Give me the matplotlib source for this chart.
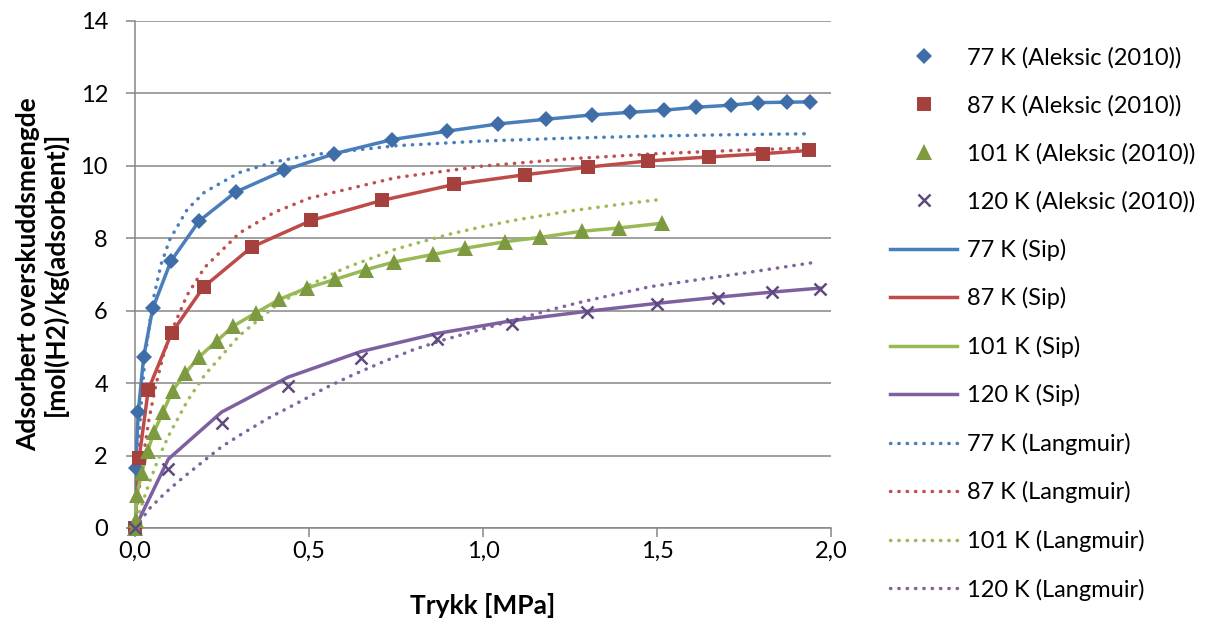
import matplotlib
matplotlib.use("Agg")
import matplotlib.pyplot as plt
from matplotlib.ticker import FuncFormatter, MultipleLocator

plt.rcParams['font.family'] = ['Lato', 'DejaVu Sans']

# Aleksic (2010) measurements
p77 = [0.0, 0.0015, 0.0095, 0.025, 0.051, 0.103, 0.184, 0.289, 0.429, 0.573, 0.739,
       0.896, 1.043, 1.181, 1.313, 1.422, 1.52, 1.612, 1.713, 1.79, 1.874, 1.94]
q77 = [0.0, 1.65, 3.21, 4.73, 6.06, 7.36, 8.47, 9.27, 9.87, 10.33, 10.72,
       10.95, 11.15, 11.28, 11.40, 11.47, 11.53, 11.61, 11.67, 11.74, 11.75, 11.76]

p87 = [0.0, 0.012, 0.038, 0.105, 0.197, 0.335, 0.507, 0.709, 0.917, 1.121, 1.302,
       1.474, 1.649, 1.804, 1.937]
q87 = [0.0, 1.93, 3.81, 5.38, 6.65, 7.75, 8.49, 9.04, 9.48, 9.75, 9.96,
       10.13, 10.24, 10.33, 10.42]

p101 = [0.0, 0.0015, 0.005, 0.019, 0.036, 0.055, 0.081, 0.108, 0.144, 0.185, 0.235,
        0.282, 0.348, 0.415, 0.493, 0.575, 0.664, 0.744, 0.857, 0.948, 1.063, 1.164,
        1.284, 1.391, 1.514]
q101 = [0.0, 0.22, 0.91, 1.51, 2.12, 2.66, 3.21, 3.79, 4.27, 4.73, 5.16,
        5.57, 5.94, 6.31, 6.62, 6.86, 7.13, 7.34, 7.55, 7.72, 7.90, 8.02,
        8.19, 8.28, 8.41]

p120 = [0.0, 0.0957, 0.249, 0.439, 0.649, 0.869, 1.083, 1.299, 1.50, 1.675, 1.83, 1.968]
q120 = [0.0, 1.62, 2.91, 3.93, 4.69, 5.22, 5.64, 5.95, 6.18, 6.36, 6.50, 6.60]

# Sip model (same pressures as the measurements)
sip77 = [0.0, 1.65, 3.21, 4.73, 6.06, 7.36, 8.47, 9.27, 9.87, 10.33, 10.72,
         10.95, 11.15, 11.28, 11.40, 11.47, 11.53, 11.61, 11.67, 11.74, 11.75, 11.76]
sip87 = [0.0, 1.93, 3.81, 5.38, 6.65, 7.75, 8.49, 9.04, 9.48, 9.75, 9.96,
         10.13, 10.24, 10.33, 10.42]
sip101 = [0.0, 0.22, 0.91, 1.51, 2.12, 2.66, 3.21, 3.79, 4.27, 4.73, 5.16,
          5.57, 5.94, 6.31, 6.62, 6.86, 7.13, 7.34, 7.55, 7.72, 7.90, 8.02,
          8.19, 8.28, 8.41]
sip120 = [0.0, 1.90, 3.20, 4.16, 4.87, 5.37, 5.72, 5.98, 6.20, 6.37, 6.51, 6.62]

# Langmuir fits
lp77 = [0.0, 0.005, 0.01, 0.02, 0.03, 0.05, 0.075, 0.1, 0.15, 0.2, 0.3, 0.4, 0.5,
        0.75, 1.0, 1.25, 1.5, 1.75, 1.94]
lq77 = [0.0, 1.25, 2.25, 3.74, 4.80, 6.21, 7.28, 7.96, 8.79, 9.27, 9.81, 10.10, 10.29,
        10.55, 10.68, 10.76, 10.82, 10.86, 10.88]

lp87 = [0.0, 0.005, 0.01, 0.02, 0.04, 0.06, 0.08, 0.1, 0.15, 0.2, 0.3, 0.4, 0.5,
        0.75, 1.0, 1.25, 1.5, 1.75, 1.937]
lq87 = [0.0, 0.49, 0.94, 1.73, 2.99, 3.95, 4.71, 5.32, 6.43, 7.19, 8.14, 8.71, 9.10,
        9.67, 9.99, 10.19, 10.33, 10.43, 10.49]

lp101 = [0.0, 0.01, 0.02, 0.04, 0.06, 0.08, 0.1, 0.15, 0.2, 0.3, 0.4, 0.5, 0.6,
         0.75, 0.9, 1.0, 1.1, 1.25, 1.4, 1.504]
lq101 = [0.0, 0.33, 0.65, 1.22, 1.73, 2.2, 2.61, 3.50, 4.22, 5.31, 6.10, 6.70, 7.16,
         7.70, 8.10, 8.32, 8.51, 8.75, 8.94, 9.06]

lp120 = [0.0, 0.043, 0.086, 0.124, 0.196, 0.25, 0.311, 0.383, 0.465, 0.546, 0.627,
         0.714, 0.8, 0.886, 0.972, 1.083, 1.193, 1.288, 1.48, 1.767, 1.959]
lq120 = [0.0, 0.55, 0.96, 1.28, 1.84, 2.25, 2.62, 3.03, 3.44, 3.86, 4.23,
         4.59, 4.92, 5.19, 5.42, 5.72, 6.02, 6.25, 6.66, 7.06, 7.34]

temps = ["77 K", "87 K", "101 K", "120 K"]
line_colors = ['#4A7EBB', '#BE4B48', '#98B954', '#7D60A0']
marker_colors = ['#3E6DA8', '#A6403D', '#7E9A40', '#5E4A7E']
dot_colors = ['#4A7EBB', '#C0504D', '#9BBB59', '#8064A2']

fig = plt.figure(figsize=(12.1, 6.21), dpi=100)
ax = fig.add_axes([135 / 1210, 1 - 528 / 621, 696 / 1210, 507.3 / 621])

data = [(p77, q77), (p87, q87), (p101, q101), (p120, q120)]
sips = [sip77, sip87, sip101, sip120]
langs = [(lp77, lq77), (lp87, lq87), (lp101, lq101), (lp120, lq120)]
markers = [('D', 8.5), ('s', 9.5), ('^', 11), ('x', 9)]

marker_handles = []
sip_handles = []
lang_handles = []
for i in range(4):
    m, ms = markers[i]
    if m == 'x':
        h, = ax.plot(data[i][0], data[i][1], ls='none', marker='x', ms=ms, mew=1.8,
                     color=marker_colors[i], zorder=5, clip_on=False,
                     label=temps[i] + " (Aleksic (2010))")
    else:
        h, = ax.plot(data[i][0], data[i][1], ls='none', marker=m, ms=ms, mew=0,
                     color=marker_colors[i], zorder=5, clip_on=False,
                     label=temps[i] + " (Aleksic (2010))")
    marker_handles.append(h)
    h, = ax.plot(data[i][0], sips[i], color=line_colors[i], lw=2.5, zorder=4,
                 solid_joinstyle='round', label=temps[i] + " (Sip)")
    sip_handles.append(h)
    h, = ax.plot(langs[i][0], langs[i][1], color=dot_colors[i], lw=2.5,
                 linestyle=(0, (0.1, 2.3)), dash_capstyle='round', zorder=3,
                 label=temps[i] + " (Langmuir)")
    lang_handles.append(h)

ax.set_xlim(0, 2.0)
ax.set_ylim(0, 14)
ax.xaxis.set_major_locator(MultipleLocator(0.5))
ax.yaxis.set_major_locator(MultipleLocator(2))
ax.xaxis.set_major_formatter(FuncFormatter(lambda v, _: f"{v:.1f}".replace('.', ',')))
ax.yaxis.grid(True, color='#868686', lw=1.1)
ax.set_axisbelow(True)
for s in ['top', 'right']:
    ax.spines[s].set_visible(False)
for s in ['left', 'bottom']:
    ax.spines[s].set_color('#868686')
    ax.spines[s].set_linewidth(1.1)
ax.tick_params(axis='both', direction='out', length=6.5, width=1.1, color='#868686',
               labelsize=17, labelcolor='black')
ax.tick_params(axis='y', pad=13)
ax.tick_params(axis='x', pad=3)

fig.text(483 / 1210, 1 - 606 / 621, "Trykk [MPa]", ha='center', va='center',
         fontsize=19, fontweight='bold')
fig.text(42 / 1210, 1 - 274 / 621, "Adsorbert overskuddsmengde\n[mol(H2)/kg(adsorbent)]",
         ha='center', va='center', rotation=90, fontsize=19, fontweight='bold',
         multialignment='center', linespacing=1.15)

handles = marker_handles + sip_handles + lang_handles
fig.legend(handles=handles, labels=[h.get_label() for h in handles],
           loc='center left', bbox_to_anchor=(890 / 1210, 1 - 323.7 / 621),
           frameon=False, fontsize=17, handlelength=2.85, handletextpad=0.4,
           labelspacing=1.12, borderpad=0, borderaxespad=0)

fig.savefig("out.png", dpi=100)
